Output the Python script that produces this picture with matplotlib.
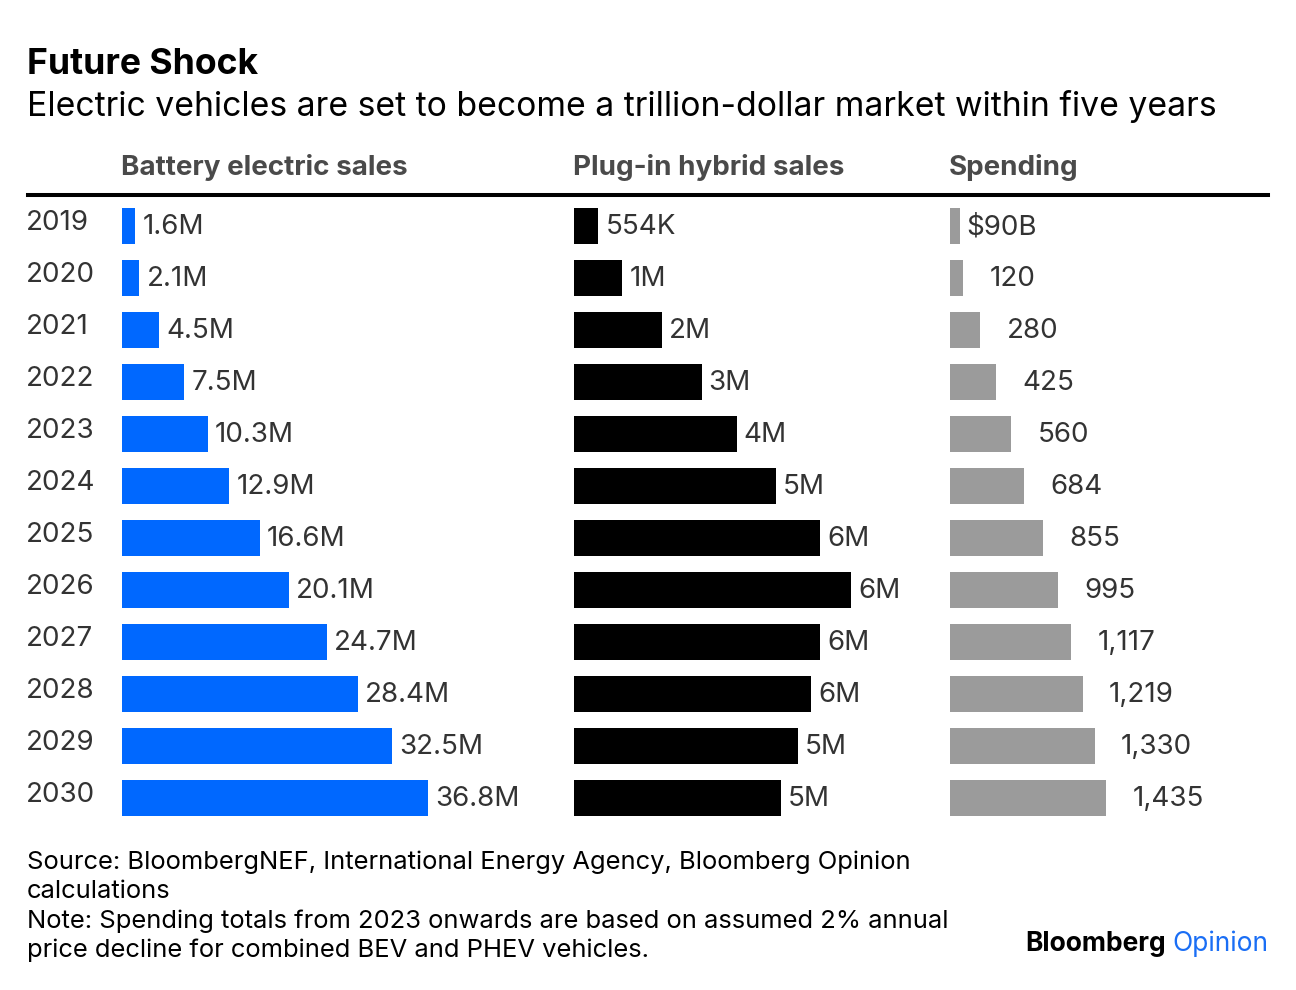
import numpy as np
import matplotlib
matplotlib.use('Agg')
import matplotlib.pyplot as plt
from matplotlib.lines import Line2D

plt.rcParams['font.family'] = ['Inter', 'DejaVu Sans']

# data
years = ['2019', '2020', '2021', '2022', '2023', '2024', '2025', '2026', '2027', '2028', '2029', '2030']
bev_sales = [1.6, 2.1, 4.5, 7.5, 10.3, 12.9, 16.6, 20.1, 24.7, 28.4, 32.5, 36.8]
bev_labels = ['1.6M', '2.1M', '4.5M', '7.5M', '10.3M', '12.9M', '16.6M', '20.1M', '24.7M', '28.4M', '32.5M', '36.8M']
phev_sales = [0.554, 1.1, 2.0, 2.9, 3.7, 4.6, 5.6, 6.3, 5.6, 5.4, 5.1, 4.7]
phev_labels = ['554K', '1M', '2M', '3M', '4M', '5M', '6M', '6M', '6M', '6M', '5M', '5M']
spending = [90, 120, 280, 425, 560, 684, 855, 995, 1117, 1219, 1330, 1435]
spend_labels = ['$90B', '120', '280', '425', '560', '684', '855', '995', '1,117', '1,219', '1,330', '1,435']

W, H = 1296, 990
fig = plt.figure(figsize=(W / 100, H / 100), dpi=100)

def fx(x): return x / W
def fy(y): return 1 - y / H

blue = '#0068ff'
grey_bar = '#9b9b9b'
label_col = '#333333'
head_col = '#4a4a4a'

# titles
fig.text(fx(27), fy(74), 'Future Shock', fontsize=25.6, fontweight='bold', color='black', va='baseline')
fig.text(fx(27), fy(116), 'Electric vehicles are set to become a trillion-dollar market within five years',
         fontsize=24.3, color='black', va='baseline')

# column headers
fig.text(fx(121), fy(175), 'Battery electric sales', fontsize=20, fontweight='bold', color=head_col, va='baseline')
fig.text(fx(573), fy(175), 'Plug-in hybrid sales', fontsize=20, fontweight='bold', color=head_col, va='baseline')
fig.text(fx(949), fy(175), 'Spending', fontsize=20, fontweight='bold', color=head_col, va='baseline')
fig.add_artist(Line2D([fx(28), fx(1268)], [fy(195), fy(195)], color='black', lw=2.9,
                      transform=fig.transFigure))

# bar panels: (left px, width px, values, labels, colour, xmax)
top, bottom = 200, 824
panels = [
    (122, 306, bev_sales, bev_labels, blue, 36.8),
    (574, 277, phev_sales, phev_labels, 'black', 6.3),
    (950, 156, spending, spend_labels, grey_bar, 1435),
]
y = np.arange(len(years))
axes = []
for left, width, vals, labs, col, xmax in panels:
    ax = fig.add_axes([fx(left), fy(bottom), width / W, (bottom - top) / H])
    ax.barh(y, vals, height=36 / 52, color=col)
    ax.set_xlim(0, xmax)
    ax.set_ylim(len(years) - 0.5, -0.5)
    ax.axis('off')
    for i, (v, lab) in enumerate(zip(vals, labs)):
        dx = 5
        if labs is spend_labels and i > 0:
            dx = 19
        ax.annotate(lab, (v, i), xytext=(dx, -0.8), textcoords='offset points',
                    va='center', ha='left', fontsize=20, color=label_col, annotation_clip=False)
    axes.append(ax)

# year labels
ax0 = axes[0]
for i, yr in enumerate(years):
    ax0.annotate(yr, (0, i), xytext=(-96 * 0.72, 2.2), textcoords='offset points',
                 va='center', ha='left', fontsize=20, color=label_col, annotation_clip=False)

# footer
foot = ['Source: BloombergNEF, International Energy Agency, Bloomberg Opinion',
        'calculations',
        'Note: Spending totals from 2023 onwards are based on assumed 2% annual',
        'price decline for combined BEV and PHEV vehicles.']
for k, line in enumerate(foot):
    fig.text(fx(27), fy(869 + 29.5 * k), line, fontsize=18.4, color='black', va='baseline')

# logo
t2 = fig.text(fx(1268), fy(951), 'Opinion', fontsize=19, color='#1a6ef5', ha='right', va='baseline')
fig.canvas.draw()
bb = t2.get_window_extent()
fig.text(bb.x0 / W - 6 / W, fy(951), 'Bloomberg', fontsize=19, fontweight='bold', color='black',
         ha='right', va='baseline')

fig.savefig('out.png', dpi=100)
